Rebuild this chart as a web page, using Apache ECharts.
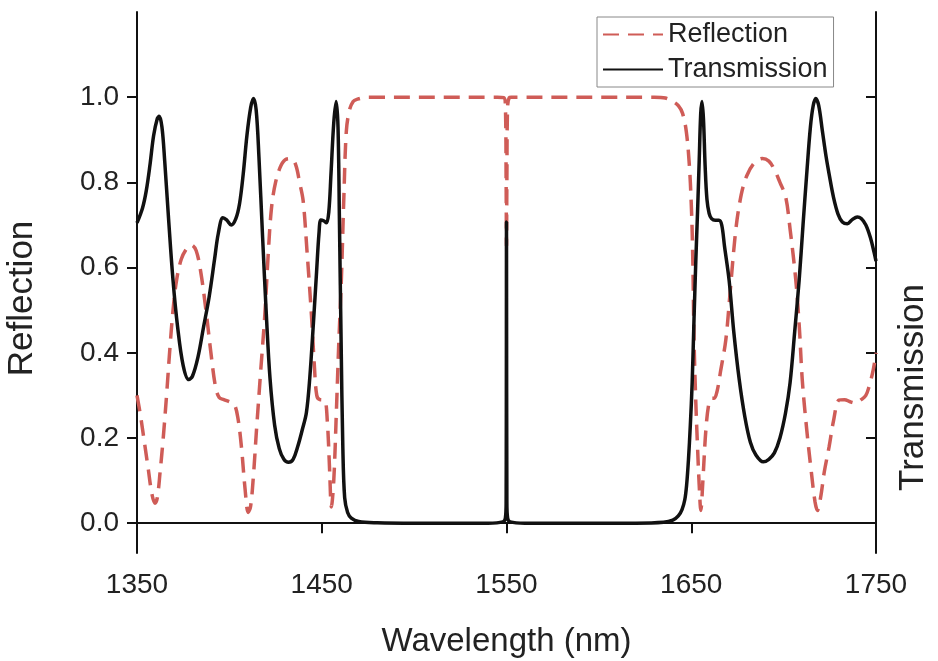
<!DOCTYPE html>
<html>
<head>
<meta charset="utf-8">
<script src="https://cdn.jsdelivr.net/npm/echarts@6/dist/echarts.min.js"></script>
<style>html,body{margin:0;padding:0;background:#fff}#c{width:938px;height:661px}</style>
</head>
<body>
<div id="c"></div>
<script>
const seriesNames = ['Reflection', 'Transmission'];
const xTicks = [1350, 1450, 1550, 1650, 1750];
const yTicks = [0, 0.2, 0.4, 0.6, 0.8, 1.0];

const transWave = [1350,1353,1355,1357,1359,1361,1362,1363.5,1365,1367,1369.5,1372,1375,1378,1380,1383,1386,1389,1392,1394,1396.5,1398.5,1401,1403.5,1405.5,1407.5,1409.5,1411.5,1413,1414.5,1416,1418,1420,1422,1424.5,1427,1429.5,1432,1434.5,1437,1439.5,1441.7,1443.5,1445.5,1447.2,1448.5,1449.5,1451,1452.5,1453.8,1455,1456.5,1457.8,1458.8,1459.6,1460.5,1461.4,1462.4,1464,1466,1470,1480,1500,1540,1548,1549.4,1549.8,1550,1550.2,1550.6,1552,1560,1620,1635,1640,1643,1645,1646.5,1647.5,1648.5,1649.5,1650.5,1651.5,1652.5,1653.4,1654.3,1655.1,1655.8,1656.6,1657.5,1658.5,1659.7,1661,1663,1665,1666.5,1668,1670.5,1673,1676,1679,1682,1685,1689,1692,1695,1698,1701,1703.5,1706,1708.4,1710.5,1712.5,1714.5,1716,1717.4,1719,1721,1723,1724.6,1727,1729.5,1731.8,1734.5,1737,1739.9,1742,1744.5,1747,1749,1750];
const transVal = [0.705,0.74,0.78,0.84,0.91,0.95,0.955,0.93,0.85,0.72,0.57,0.46,0.37,0.337,0.345,0.39,0.46,0.53,0.62,0.68,0.717,0.712,0.70,0.715,0.75,0.82,0.91,0.975,0.997,0.97,0.86,0.67,0.49,0.34,0.23,0.175,0.15,0.143,0.15,0.18,0.22,0.26,0.34,0.47,0.59,0.68,0.712,0.71,0.705,0.73,0.82,0.94,0.99,0.93,0.70,0.42,0.18,0.06,0.025,0.012,0.004,0.001,0,0,0.003,0.012,0.05,0.707,0.05,0.012,0.003,0,0,0.002,0.007,0.017,0.032,0.055,0.09,0.15,0.23,0.33,0.48,0.62,0.73,0.85,0.96,0.99,0.95,0.84,0.76,0.727,0.715,0.711,0.711,0.70,0.65,0.57,0.45,0.336,0.25,0.19,0.16,0.144,0.15,0.165,0.2,0.258,0.33,0.45,0.57,0.7,0.82,0.93,0.98,0.997,0.98,0.92,0.86,0.82,0.765,0.725,0.707,0.703,0.712,0.719,0.715,0.70,0.67,0.635,0.615];

const reflWave = [1350,1352,1354,1356,1358,1359.7,1361,1362.5,1364.2,1366,1367.8,1369.5,1371.4,1374,1377,1379.5,1382,1384.5,1387.6,1390,1392.5,1394.5,1397,1400,1402.5,1404.5,1406.5,1408.5,1410.2,1411.5,1413,1414.7,1417,1419.2,1421,1422.8,1425,1428,1431,1433.6,1436,1438,1439.9,1442,1444.4,1446,1447.3,1449,1451.5,1453,1454.3,1455.2,1456.5,1457.9,1459.2,1460.6,1462,1463.3,1465,1467,1469,1475,1545,1548.5,1549.4,1549.8,1550,1550.2,1550.6,1551.5,1552.5,1630,1636,1640,1643,1645.3,1647.3,1648.9,1650,1650.7,1651.6,1652.5,1653.4,1654.3,1655.2,1656.3,1657.9,1659.5,1661,1662.4,1664,1666,1668.7,1671,1674.1,1677,1680,1684,1688.5,1692,1695,1698,1701.1,1703.5,1706.6,1708.5,1710.1,1712.5,1715,1717,1718.3,1720,1722,1724.6,1727,1730,1733,1736,1739,1742,1744.5,1746.2,1748.5,1750];
const reflVal = [0.30,0.25,0.19,0.13,0.07,0.047,0.06,0.12,0.20,0.30,0.41,0.50,0.57,0.62,0.645,0.653,0.64,0.59,0.49,0.40,0.32,0.295,0.29,0.285,0.28,0.25,0.18,0.08,0.025,0.04,0.11,0.22,0.36,0.49,0.63,0.74,0.80,0.84,0.855,0.856,0.84,0.80,0.758,0.64,0.49,0.37,0.30,0.29,0.289,0.24,0.12,0.038,0.10,0.26,0.42,0.57,0.77,0.92,0.97,0.99,0.995,1.0,1.0,0.999,0.98,0.8,0.65,0.8,0.98,0.999,1.0,1.0,0.998,0.99,0.98,0.962,0.92,0.845,0.75,0.649,0.414,0.28,0.179,0.09,0.03,0.10,0.218,0.28,0.293,0.293,0.31,0.36,0.43,0.54,0.688,0.77,0.815,0.845,0.856,0.85,0.83,0.80,0.766,0.69,0.57,0.46,0.336,0.22,0.12,0.05,0.03,0.06,0.12,0.179,0.24,0.289,0.29,0.285,0.282,0.29,0.30,0.32,0.36,0.40];

const pair = (xs, ys) => xs.map((x, i) => [x, ys[i]]);
const FONT = '"Liberation Sans", Arial, sans-serif';
const axisLineStyle = { color: '#111', width: 2 };

const chart = echarts.init(document.getElementById('c'));
chart.setOption({
  backgroundColor: '#ffffff',
  animation: false,
  textStyle: { fontFamily: FONT },
  grid: { left: 137, right: 62, top: 12, bottom: 108, outerBoundsMode: 'none', containLabel: false },
  legend: {
    orient: 'vertical',
    left: 597, top: 17,
    padding: [3, 6, 3, 5],
    itemGap: 6,
    itemWidth: 60,
    itemHeight: 14,
    borderColor: '#888',
    borderWidth: 1,
    backgroundColor: '#fff',
    itemStyle: { opacity: 0 },
    data: seriesNames,
    textStyle: { fontFamily: FONT, fontSize: 27, color: '#222', lineHeight: 29 }
  },
  xAxis: [{
    type: 'value', position: 'bottom', min: xTicks[0], max: xTicks[xTicks.length - 1], interval: 100,
    name: 'Wavelength (nm)', nameLocation: 'middle', nameGap: 72,
    nameTextStyle: { fontFamily: FONT, fontSize: 33, color: '#222' },
    axisLine: { lineStyle: axisLineStyle },
    axisTick: { inside: false, length: 10, lineStyle: axisLineStyle },
    axisLabel: { margin: 18, fontFamily: FONT, fontSize: 28, color: '#222', formatter: v => String(v) },
    splitLine: { show: false }
  }, {
    type: 'value', position: 'top', min: xTicks[0], max: xTicks[xTicks.length - 1], interval: 100,
    axisLine: { lineStyle: axisLineStyle },
    axisTick: { inside: true, length: 10, lineStyle: axisLineStyle },
    axisLabel: { show: false },
    splitLine: { show: false }
  }],
  yAxis: [{
    type: 'value', position: 'left', min: -0.07, max: 1.2,
    name: 'Reflection', nameLocation: 'middle', nameGap: 97, nameRotate: 90,
    nameTextStyle: { fontFamily: FONT, fontSize: 35, color: '#222', padding: [0, 32, 0, 0] },
    axisLine: { show: true, lineStyle: axisLineStyle },
    axisTick: { show: true, inside: false, length: 10, lineStyle: axisLineStyle, customValues: yTicks },
    axisLabel: { margin: 18, fontFamily: FONT, fontSize: 28, color: '#222', customValues: yTicks,
      formatter: v => v.toFixed(1) },
    splitLine: { show: false }
  }, {
    type: 'value', position: 'right', min: -0.07, max: 1.2,
    name: 'Transmission', nameLocation: 'middle', nameGap: 20, nameRotate: 90,
    nameTextStyle: { fontFamily: FONT, fontSize: 35, color: '#222', padding: [0, 210, 0, 0] },
    axisLine: { show: true, lineStyle: axisLineStyle },
    axisTick: { show: true, inside: true, length: 10, lineStyle: axisLineStyle, customValues: yTicks },
    axisLabel: { show: false, customValues: yTicks },
    splitLine: { show: false }
  }],
  series: [{
    name: seriesNames[0], type: 'line', xAxisIndex: 0, yAxisIndex: 0,
    data: pair(reflWave, reflVal),
    symbol: 'none', smooth: 0.35,
    lineStyle: { color: '#cf5c57', width: 3.5, type: [16, 9] },
    itemStyle: { color: '#cf5c57' },
    z: 2
  }, {
    name: seriesNames[1], type: 'line', xAxisIndex: 0, yAxisIndex: 0,
    data: pair(transWave, transVal),
    symbol: 'none', smooth: 0.35,
    lineStyle: { color: '#111', width: 3.5 },
    itemStyle: { color: '#111' },
    z: 3
  }]
});
</script>
</body>
</html>
